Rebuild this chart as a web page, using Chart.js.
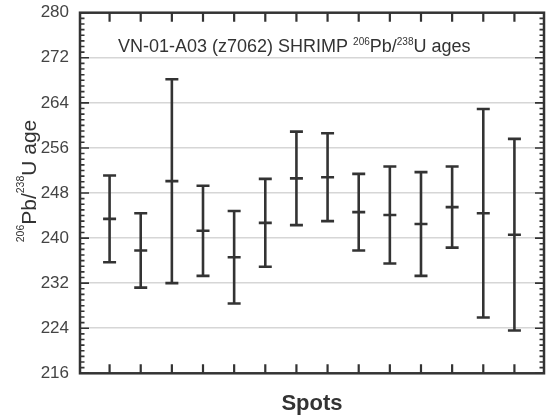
<!DOCTYPE html>
<html>
<head>
<meta charset="utf-8">
<script src="https://cdn.jsdelivr.net/npm/chart.js@4.4.1/dist/chart.umd.min.js"></script>
<style>
  html, body { margin: 0; padding: 0; background: #fff; }
  #wrap { width: 547px; height: 415px; position: relative; }
</style>
</head>
<body>
<div id="wrap"><canvas id="chart"></canvas></div>
<script>
// spot numbers, 206Pb/238U ages (Ma) and their error half-widths
const spots = [1, 2, 3, 4, 5, 6, 7, 8, 9, 10, 11, 12, 13, 14];
const ages = [243.4, 237.8, 250.1, 241.3, 236.6, 242.7, 250.6, 250.8, 244.6, 244.1, 242.5, 245.5, 244.4, 240.6];
const errors = [7.7, 6.6, 18.1, 8.0, 8.2, 7.8, 8.3, 7.8, 6.8, 8.6, 9.2, 7.2, 18.5, 17.0];
const yTicks = [216, 224, 232, 240, 248, 256, 264, 272, 280];

const FONT = "'Liberation Sans', Arial, sans-serif";
const INK = '#333';

// each spot: low, value, high, then a null to break the line
const points = [];
spots.forEach((s, i) => {
  points.push({ x: s, y: ages[i] - errors[i] });
  points.push({ x: s, y: ages[i] });
  points.push({ x: s, y: ages[i] + errors[i] });
  points.push({ x: s, y: null });
});

// draws text with superscript parts, left to right from (x, y)
function drawRich(ctx, parts, x, y, size, supSize, raise) {
  let cx = x;
  parts.forEach(p => {
    ctx.font = (p.sup ? supSize : size) + 'px ' + FONT;
    ctx.fillText(p.t, cx, p.sup ? y - raise : y);
    cx += ctx.measureText(p.t).width;
  });
  return cx - x;
}
function richWidth(ctx, parts, size, supSize) {
  let w = 0;
  parts.forEach(p => {
    ctx.font = (p.sup ? supSize : size) + 'px ' + FONT;
    w += ctx.measureText(p.t).width;
  });
  return w;
}

const framePlugin = {
  id: 'frame',
  afterDraw(chart) {
    const { ctx, chartArea: a, scales: { x, y } } = chart;
    ctx.save();
    ctx.strokeStyle = INK;
    ctx.lineWidth = 2.5;
    ctx.strokeRect(a.left, a.top, a.right - a.left, a.bottom - a.top);

    // y ticks on both sides, pointing in
    ctx.lineWidth = 1.6;
    ctx.beginPath();
    for (let v = yTicks[0]; v <= yTicks[yTicks.length - 1]; v++) {
      const py = y.getPixelForValue(v);
      const len = yTicks.includes(v) ? 9 : 4.5;
      ctx.moveTo(a.left, py); ctx.lineTo(a.left + len, py);
      ctx.moveTo(a.right, py); ctx.lineTo(a.right - len, py);
    }
    ctx.stroke();

    // x ticks top and bottom at each spot
    ctx.lineWidth = 2.2;
    ctx.beginPath();
    spots.forEach(s => {
      const px = x.getPixelForValue(s);
      ctx.moveTo(px, a.top); ctx.lineTo(px, a.top + 9);
      ctx.moveTo(px, a.bottom); ctx.lineTo(px, a.bottom - 9);
    });
    ctx.stroke();

    ctx.fillStyle = INK;
    ctx.textBaseline = 'alphabetic';
    ctx.textAlign = 'left';

    // title inside the plot
    const title = [
      { t: 'VN-01-A03 (z7062) SHRIMP ' }, { t: '206', sup: true },
      { t: 'Pb/' }, { t: '238', sup: true }, { t: 'U ages' }
    ];
    drawRich(ctx, title, 118, 52, 18, 10, 7);

    // y axis title, rotated
    const yTitle = [
      { t: '206', sup: true }, { t: 'Pb/' }, { t: '238', sup: true }, { t: 'U age' }
    ];
    const w = richWidth(ctx, yTitle, 21, 10.5);
    ctx.translate(36, 181);
    ctx.rotate(-Math.PI / 2);
    drawRich(ctx, yTitle, -w / 2, 0, 21, 10.5, 12);
    ctx.restore();
  }
};

new Chart(document.getElementById('chart'), {
  type: 'scatter',
  data: {
    datasets: [{
      data: points,
      showLine: true,
      spanGaps: false,
      borderColor: INK,
      borderWidth: 2.6,
      pointStyle: 'line',
      pointRadius: 6.5,
      pointBorderWidth: 2.6,
      pointBorderColor: INK,
      pointBackgroundColor: INK
    }]
  },
  options: {
    responsive: true,
    maintainAspectRatio: false,
    animation: false,
    layout: { autoPadding: false, padding: { top: 12.7, right: 3, bottom: 0, left: 0 } },
    plugins: {
      legend: { display: false },
      tooltip: { enabled: false }
    },
    scales: {
      x: {
        type: 'linear',
        min: 0.05,
        max: 14.95,
        grid: { display: false, drawTicks: false },
        border: { display: false },
        ticks: { display: false },
        title: {
          display: true,
          text: 'Spots',
          color: INK,
          font: { family: FONT, size: 22, weight: 'bold', lineHeight: 1 },
          padding: { top: 0, bottom: 0 }
        },
        afterFit: scale => { scale.height = 41.7; }
      },
      y: {
        min: yTicks[0],
        max: yTicks[yTicks.length - 1],
        afterBuildTicks: scale => { scale.ticks = yTicks.map(v => ({ value: v })); },
        grid: {
          drawTicks: false,
          lineWidth: 1.5,
          color: c => (c.tick && (c.tick.value === yTicks[0] || c.tick.value === yTicks[yTicks.length - 1]))
            ? 'rgba(0,0,0,0)' : '#d6d6d6'
        },
        border: { display: false },
        ticks: {
          color: '#444',
          padding: 11,
          font: { family: FONT, size: 17 }
        },
        afterFit: scale => {
          scale.width = 80;
          scale.paddingTop = 0;
          scale.paddingBottom = 0;
        }
      }
    }
  },
  plugins: [framePlugin]
});
</script>
</body>
</html>
